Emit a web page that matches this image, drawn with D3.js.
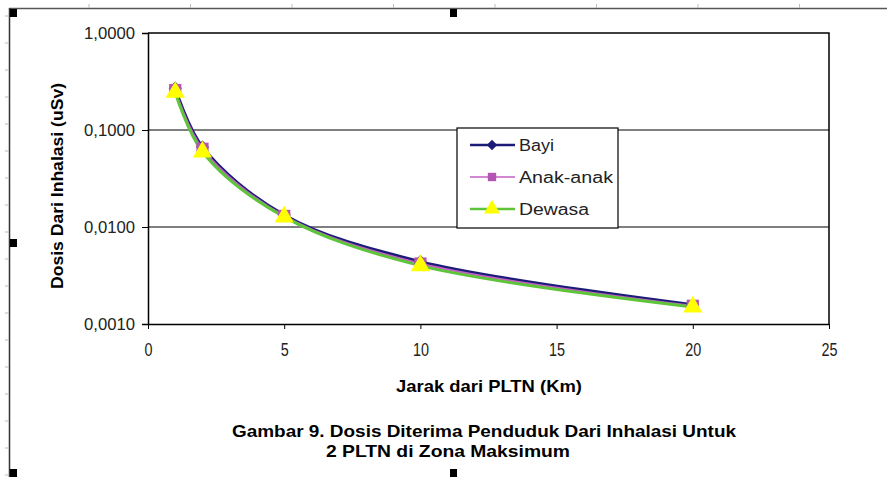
<!DOCTYPE html>
<html>
<head>
<meta charset="utf-8">
<script src="https://cdn.jsdelivr.net/npm/d3@7"></script>
<style>
  body { margin: 0; background: #fff; }
  svg { display: block; font-family: Arial, "Liberation Sans", sans-serif; }
  .axis path, .axis line { stroke: #000; }
  .axis text { fill: #222; font-family: Arial, "Liberation Sans", sans-serif; }
</style>
</head>
<body>
<svg id="chart" width="887" height="477"></svg>
<script>
// data
var distances = [1, 2, 5, 10, 20];
var bayi = [0.270, 0.0668, 0.0133, 0.00440, 0.00158];
var anakAnak = [0.258, 0.0640, 0.0130, 0.00420, 0.00154];
var dewasa = [0.245, 0.0595, 0.0127, 0.00400, 0.00150];
var seriesNames = ["Bayi", "Anak-anak", "Dewasa"];
var xTicks = [0, 5, 10, 15, 20, 25];
var yTicks = [0.001, 0.01, 0.1, 1];

var svg = d3.select("#chart");

var margin = {top: 33, right: 58, bottom: 153, left: 148},
    width = +svg.attr("width") - margin.left - margin.right,
    height = +svg.attr("height") - margin.top - margin.bottom;

// page frame (ruler lines + selection handles)
svg.append("line").attr("x1", 9).attr("x2", 887).attr("y1", 8.5).attr("y2", 8.5)
    .style("stroke", "#555").style("stroke-width", 1.5);
svg.append("line").attr("x1", 9.5).attr("x2", 9.5).attr("y1", 8).attr("y2", 477)
    .style("stroke", "#333").style("stroke-width", 1.5);
d3.range(89, 887, 101.5).forEach(function(x){
    svg.append("line").attr("x1", x).attr("x2", x).attr("y1", 4).attr("y2", 8)
        .style("stroke", "#bbb");
});
d3.range(16, 477, 27).forEach(function(y){
    svg.append("line").attr("x1", 5).attr("x2", 9).attr("y1", y).attr("y2", y)
        .style("stroke", "#bbb");
});
[[10, 9], [450, 9], [10, 239], [10, 469], [450, 469]].forEach(function(p){
    svg.append("rect").attr("x", p[0]).attr("y", p[1]).attr("width", 7).attr("height", 8)
        .style("fill", "#000");
});

var g = svg.append("g").attr("transform", "translate(" + margin.left + "," + margin.top + ")");

var x = d3.scaleLinear().domain([0, 25]).range([0, width]);
var y = d3.scaleLog().domain([0.001, 1]).range([height, 0]);

// grid lines
g.selectAll(".grid")
    .data(yTicks.slice(1, 3))
    .enter().append("line")
    .attr("x1", 0).attr("x2", width)
    .attr("y1", function(d){ return y(d); })
    .attr("y2", function(d){ return y(d); })
    .style("stroke", "#000").style("stroke-width", 1.2);

// plot border top/right
g.append("path")
    .attr("d", "M0," + y(1) + "H" + width + "V" + height)
    .style("fill", "none").style("stroke", "#000").style("stroke-width", 1.5);

var fmt = d3.format(".4f");
g.append("g")
    .attr("class", "axis")
    .call(d3.axisLeft(y).tickValues(yTicks).tickSize(6).tickPadding(7)
        .tickFormat(function(d){ return fmt(d).replace(".", ","); }))
    .call(function(a){
        a.select(".domain").style("stroke-width", 1.5);
        a.selectAll("text").style("font-size", "16.5px").attr("textLength", 51)
            .attr("lengthAdjust", "spacingAndGlyphs");
    });

g.append("g")
    .attr("class", "axis")
    .attr("transform", "translate(0," + height + ")")
    .call(d3.axisBottom(x).tickValues(xTicks).tickSize(5).tickSizeOuter(0))
    .call(function(a){
        a.select(".domain").style("stroke-width", 1.5);
        a.selectAll("text")
            .style("font-size", "18.5px")
            .attr("y", 32).attr("dy", 0)
            .attr("textLength", function(d){ return String(d).length * 8; })
            .attr("lengthAdjust", "spacingAndGlyphs");
    });

// axis titles
svg.append("text")
    .attr("transform", "translate(63,186) rotate(-90)")
    .style("text-anchor", "middle")
    .style("font-weight", "bold").style("font-size", "16px")
    .attr("textLength", 206).attr("lengthAdjust", "spacingAndGlyphs")
    .text("Dosis Dari Inhalasi (uSv)");

svg.append("text")
    .attr("x", 396).attr("y", 392)
    .style("font-weight", "bold").style("font-size", "16.5px")
    .attr("textLength", 186).attr("lengthAdjust", "spacingAndGlyphs")
    .text("Jarak dari PLTN (Km)");

svg.append("text")
    .attr("x", 232).attr("y", 437)
    .style("font-weight", "bold").style("font-size", "17px")
    .attr("textLength", 504).attr("lengthAdjust", "spacingAndGlyphs")
    .text("Gambar 9. Dosis Diterima Penduduk Dari Inhalasi Untuk");
svg.append("text")
    .attr("x", 326).attr("y", 457)
    .style("font-weight", "bold").style("font-size", "17px")
    .attr("textLength", 244).attr("lengthAdjust", "spacingAndGlyphs")
    .text("2 PLTN di Zona Maksimum");

// series
var series = [
    {name: seriesNames[0], values: bayi, color: "#1c1c78", width: 3, symbol: d3.symbolDiamond2, size: 110, legSize: 70, fill: "#1c1c78", textLen: 35},
    {name: seriesNames[1], values: anakAnak, color: "#c45fc4", width: 2, symbol: d3.symbolSquare, size: 150, legSize: 70, fill: "#b455b4", textLen: 94},
    {name: seriesNames[2], values: dewasa, color: "#5ec43a", width: 3, symbol: d3.symbolTriangle, size: 160, legSize: 110, fill: "#ffff00", textLen: 70}
];

var line = d3.line()
    .x(function(d){ return x(d[0]); })
    .y(function(d){ return y(d[1]); })
    .curve(d3.curveCatmullRom.alpha(0.5));

series.forEach(function(s){
    var pts = distances.map(function(d, i){ return [d, s.values[i]]; });
    g.append("path")
        .datum(pts)
        .attr("d", line)
        .style("fill", "none")
        .style("stroke", s.color)
        .style("stroke-width", s.width);
});

series.forEach(function(s){
    var pts = distances.map(function(d, i){ return [d, s.values[i]]; });
    g.selectAll(null)
        .data(pts)
        .enter().append("path")
        .attr("transform", function(d){ return "translate(" + x(d[0]) + "," + y(d[1]) + ")"; })
        .attr("d", d3.symbol().type(s.symbol).size(s.size))
        .style("fill", s.fill);
});

// legend
var legend = svg.append("g").attr("transform", "translate(457,128)");
legend.append("rect")
    .attr("width", 161).attr("height", 100)
    .style("fill", "#fff").style("stroke", "#000").style("stroke-width", 1.2);

series.forEach(function(s, i){
    var row = legend.append("g").attr("transform", "translate(0," + (17 + i * 32) + ")");
    row.append("line").attr("x1", 13).attr("x2", 58)
        .style("stroke", s.color).style("stroke-width", s.width === 3 ? 2.5 : 1.5);
    row.append("path").attr("transform", "translate(35,0)")
        .attr("d", d3.symbol().type(s.symbol).size(s.legSize))
        .style("fill", s.fill);
    row.append("text").attr("x", 62).attr("y", 0).attr("dy", "0.36em")
        .style("font-size", "16px").style("fill", "#222")
        .attr("textLength", s.textLen).attr("lengthAdjust", "spacingAndGlyphs")
        .text(s.name);
});
</script>
</body>
</html>
